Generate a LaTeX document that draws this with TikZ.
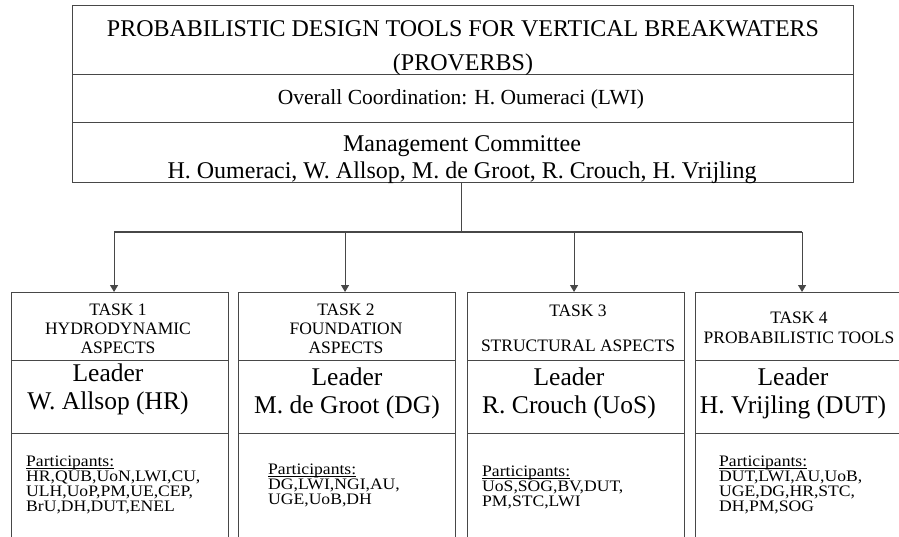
\documentclass[tikz,border=0pt]{standalone}
\usepackage{fontspec}
\setmainfont{Liberation Serif}
\newfontfamily\widefont[FakeStretch=1.1]{Liberation Serif}
\usetikzlibrary{arrows.meta,positioning}

\tikzset{
  cell/.style={draw=black!72, line width=1.1pt, rectangle, inner sep=0pt, anchor=north west},
  link/.style={draw=black!72, line width=1.1pt},
  down/.style={link, -{Triangle[width=8pt,length=7pt]}},
  bigtext/.style={font=\fontsize{24}{34}\selectfont, align=center, inner sep=0pt},
  headtext/.style={font=\fontsize{17.5}{19}\selectfont, align=center, inner sep=0pt},
  leadtext/.style={font=\fontsize{25.5}{28}\selectfont, align=center, inner sep=0pt},
  parttext/.style={font=\widefont\fontsize{16}{15}\selectfont, align=left, inner sep=0pt, anchor=north west},
}

\begin{document}
\begin{tikzpicture}[x=1pt,y=-1pt]
  \useasboundingbox (0,0) rectangle (899,537);
  \clip (0,0) rectangle (899,537);

  % project frame
  \node[cell, minimum width=781pt, minimum height=69pt] (title) at (72,5) {};
  \node[cell, minimum width=781pt, minimum height=48pt] (coord) at (72,74) {};
  \node[cell, minimum width=781pt, minimum height=60pt] (board) at (72,122) {};
  \node[bigtext] (titletext) at (463,48) {PROBABILISTIC DESIGN TOOLS FOR VERTICAL BREAKWATERS\\(PROVERBS)};
  \node[bigtext, font=\fontsize{21.5}{26}\selectfont] (coordtext) at (461,99) {Overall Coordination: H. Oumeraci (LWI)};
  \node[bigtext, font=\fontsize{24}{27}\selectfont] (boardtext) at (462,160) {Management Committee\\H. Oumeraci, W. Allsop, M. de Groot, R. Crouch, H. Vrijling};

  % task frames
  \foreach \i/\x in {1/11, 2/238, 3/467, 4/695} {
    \node[cell, minimum width=217pt, minimum height=68pt] (head\i) at (\x,292) {};
    \node[cell, minimum width=217pt, minimum height=73pt] (lead\i) at (\x,360) {};
    \node[cell, minimum width=217pt, minimum height=130pt] (part\i) at (\x,433) {};
  }

  % task titles
  \node[headtext] (task1) at (118,329) {TASK 1\\HYDRODYNAMIC\\ASPECTS};
  \node[headtext] (task2) at (346,329) {TASK 2\\FOUNDATION\\ASPECTS};
  \node[headtext] (task3) at (578,328) {TASK 3\\[16pt]STRUCTURAL ASPECTS};
  \node[headtext, font=\fontsize{17.5}{20}\selectfont] (task4) at (799,328) {TASK 4\\PROBABILISTIC TOOLS};

  % leaders
  \node[leadtext] (leader1) at (108,389) {Leader\\W. Allsop (HR)};
  \node[leadtext] (leader2) at (347,393) {Leader\\M. de Groot (DG)};
  \node[leadtext] (leader3) at (569,393) {Leader\\R. Crouch (UoS)};
  \node[leadtext] (leader4) at (793,393) {Leader\\H. Vrijling (DUT)};

  % participants
  \node[parttext] (who1) at (26,456) {\underbar{Participants:}\\HR,QUB,UoN,LWI,CU,\\ULH,UoP,PM,UE,CEP,\\BrU,DH,DUT,ENEL};
  \node[parttext] (who2) at (268,464) {\underbar{Participants:}\\DG,LWI,NGI,AU,\\UGE,UoB,DH};
  \node[parttext] (who3) at (482,466) {\underbar{Participants:}\\UoS,SOG,BV,DUT,\\PM,STC,LWI};
  \node[parttext] (who4) at (719,456) {\underbar{Participants:}\\DUT,LWI,AU,UoB,\\UGE,DG,HR,STC,\\DH,PM,SOG};

  % connectors
  \coordinate (bus) at (0,232);
  \draw[link] ([xshift=-1.5pt]board.south) -- ([xshift=-1.5pt]board.south |- bus);
  \draw[link] ([xshift=-6pt]head1.north |- bus) -- ([xshift=-2pt]head4.north |- bus);
  \foreach \i/\dx in {1/-6, 2/-2, 3/-2, 4/-2}
    \draw[down] ([xshift=\dx pt]head\i.north |- bus) -- ([xshift=\dx pt]head\i.north);
\end{tikzpicture}
\end{document}
